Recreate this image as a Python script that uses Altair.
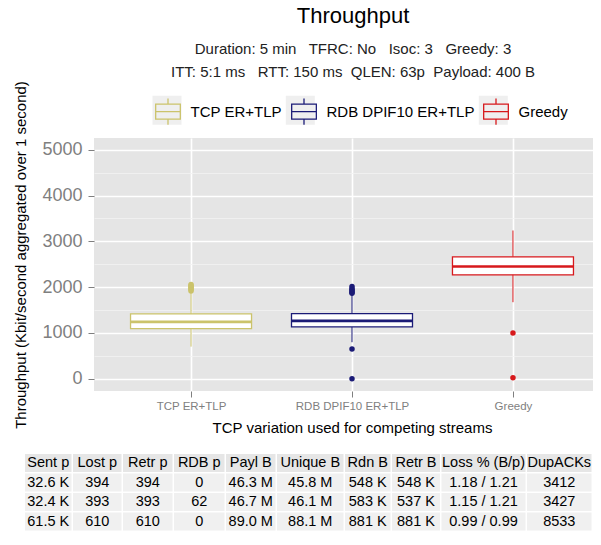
import altair as alt
import pandas as pd

# ---------------- data ----------------
categories = ["TCP ER+TLP", "RDB DPIF10 ER+TLP", "Greedy"]
colors = ["#CBC36B", "#1B1B77", "#D7191C"]

q1 = [1093, 1130, 2267]
median = [1240, 1262, 2449]
q3 = [1414, 1421, 2661]
whisker_lo = [700, 796, 1670]
whisker_hi = [1870, 1830, 3236]

outliers_tcp = [1917, 1940, 1965, 1990, 2010, 2035, 2055]
outliers_rdb = [1867, 1890, 1915, 1940, 1965, 2011, 650, 0]
outliers_greedy = [999, 22]

NB = "\u00a0"
title_text = "Throughput"
subtitle_lines = [
    f"Duration: 5 min{NB}{NB} TFRC: No{NB}{NB} Isoc: 3{NB}{NB} Greedy: 3",
    f"ITT: 5:1 ms{NB}{NB} RTT: 150 ms{NB} QLEN: 63p{NB} Payload: 400 B",
]
x_title = "TCP variation used for competing streams"
y_title = "Throughput (Kbit/second aggregated over 1 second)"
y_ticks = [0, 500, 1000, 1500, 2000, 2500, 3000, 3500, 4000, 4500, 5000]

table_header = ["Sent p", "Lost p", "Retr p", "RDB p", "Payl B", "Unique B",
                "Rdn B", "Retr B", "Loss % (B/p)", "DupACKs"]
row_tcp = ["32.6 K", "394", "394", "0", "46.3 M", "45.8 M", "548 K", "548 K",
           "1.18 / 1.21", "3412"]
row_rdb = ["32.4 K", "393", "393", "62", "46.7 M", "46.1 M", "583 K", "537 K",
           "1.15 / 1.21", "3427"]
row_greedy = ["61.5 K", "610", "610", "0", "89.0 M", "88.1 M", "881 K", "881 K",
              "0.99 / 0.99", "8533"]

# ---------------- layout / style ----------------
FONT = "Liberation Sans"
PLOT_W, PLOT_H = 499, 253
BOX_W = 121
col_widths = [48, 50, 51, 52, 51, 68, 47, 49.5, 85.5, 66]
TABLE_LEFT, TABLE_TOP, TABLE_BOTTOM = -69, 316, 394
CELL_GAP = 1.5
header_bg, body_bg = "#E6E6E6", "#F0F0F0"
GREY = "#7F7F7F"
KEY_BG = "#EFEFEF"
LEG_X, LEG_Y, KEY_SIZE = 58.5, -42.3, 841
# grey key squares (in legend-symbol units: half key = 1) behind each legend glyph
key_offsets = [0.0, 9.193, 22.503]
key_path = " ".join(
    "M%.3f,-1H%.3fV1H%.3fZ" % (o - 1, o + 1, o - 1) for o in key_offsets)

box_df = pd.DataFrame({
    "cat": categories, "q1": q1, "median": median, "q3": q3,
    "lo": whisker_lo, "hi": whisker_hi, "col": colors,
    "key": ["k", "k", "k"],
})
out_rows = []
for cat, col, vals in zip(categories, colors, [outliers_tcp, outliers_rdb, outliers_greedy]):
    for v in vals:
        out_rows.append({"cat": cat, "value": v, "col": col})
out_df = pd.DataFrame(out_rows)

x_enc = alt.X(
    "cat:N",
    scale=alt.Scale(type="point", domain=categories, padding=0.55, align=0.548),
    axis=alt.Axis(
        title=x_title, labelAngle=0, labelFontSize=11.5, labelColor=GREY,
        labelPadding=3, tickSize=6, tickColor=GREY, domain=False,
        grid=True, gridColor="white", gridWidth=1.6,
        titleFontSize=15, titleColor="black", titleFontWeight="normal",
        titleX=258, titleY=41.5, titleBaseline="alphabetic", titleAlign="center",
    ),
)
y_scale = alt.Scale(domain=[-269, 5256], nice=False, zero=False)
y_axis = alt.Axis(
    title=y_title, values=y_ticks, format="d",
    labelExpr="datum.value % 1000 === 0 ? datum.label : ''",
    labelFontSize=18, labelColor=GREY, labelPadding=6,
    tickSize=6,
    tickColor={"condition": {"test": "datum.value % 1000 !== 0", "value": "transparent"}, "value": GREY},
    domain=False, grid=True,
    gridColor={"condition": {"test": "datum.value % 1000 !== 0", "value": "#F2F2F2"}, "value": "white"},
    gridWidth={"condition": {"test": "datum.value % 1000 !== 0", "value": 0.8}, "value": 1.6},
    titleFontSize=15, titleColor="black", titleFontWeight="normal",
    titleX=-74, titleY=116.5, titleAngle=270, titleAlign="center", titleBaseline="middle",
)

legend_symbol = "M-0.85,-0.52H0.85V0.52H-0.85Z M-0.85,0H0.85 M0,-0.52V-0.9 M0,0.52V0.9"
color_enc = alt.Color(
    "cat:N",
    scale=alt.Scale(domain=categories, range=colors),
    legend=alt.Legend(
        orient="none", legendX=LEG_X, legendY=LEG_Y, direction="horizontal",
        title=None, symbolType=legend_symbol, symbolSize=KEY_SIZE,
        symbolStrokeWidth=1.3, symbolFillColor="white",
        labelFontSize=15, labelColor="black", labelFont=FONT,
        labelOffset=7, columnPadding=6, padding=0, zindex=2,
    ),
)
shape_enc = alt.Shape(
    "key:N",
    scale=alt.Scale(domain=["k"], range=[key_path]),
    legend=alt.Legend(
        orient="none", legendX=LEG_X, legendY=LEG_Y, direction="horizontal",
        title=None, symbolSize=KEY_SIZE, symbolStrokeWidth=0,
        symbolFillColor=KEY_BG, labelExpr="''",
        labelFontSize=15, labelColor="transparent",
        labelOffset=0, padding=0, zindex=1,
    ),
)

base = alt.Chart(box_df)
key_layer = base.mark_point(size=0, filled=True, color=KEY_BG, opacity=1).encode(
    x=x_enc, y=alt.Y("median:Q", scale=y_scale, axis=y_axis), shape=shape_enc)
whiskers = base.mark_rule(strokeWidth=1).encode(
    x=x_enc, y=alt.Y("lo:Q", scale=y_scale, axis=y_axis), y2="hi:Q", color=color_enc)
box_fill = base.mark_bar(size=BOX_W, fill="white", stroke=None).encode(
    x=x_enc, y=alt.Y("q1:Q", scale=y_scale, axis=y_axis), y2="q3:Q")
box_line = base.mark_bar(size=BOX_W, filled=False, strokeWidth=1.3).encode(
    x=x_enc, y=alt.Y("q1:Q", scale=y_scale, axis=y_axis), y2="q3:Q", color=color_enc)
med = base.mark_tick(size=BOX_W, thickness=2.6, opacity=1).encode(
    x=x_enc, y=alt.Y("median:Q", scale=y_scale, axis=y_axis),
    fill=alt.Fill("col:N", scale=None))
pts = alt.Chart(out_df).mark_circle(size=30, opacity=1).encode(
    x=x_enc, y=alt.Y("value:Q", scale=y_scale, axis=y_axis),
    fill=alt.Fill("col:N", scale=None))

main = alt.layer(whiskers, box_fill, box_line, med, pts, key_layer)

# ---------------- table ----------------
rows = [table_header, row_tcp, row_rdb, row_greedy]
n_rows = len(rows)
total_w = sum(col_widths)
gap_y = CELL_GAP / ((TABLE_BOTTOM - TABLE_TOP) / n_rows)
cells = []
for r, row in enumerate(rows):
    x0 = 0.0
    for c, val in enumerate(row):
        w = col_widths[c]
        cells.append({
            "x0": x0, "x1": x0 + w - CELL_GAP, "xc": x0 + (w - CELL_GAP) / 2,
            "y0": r, "y1": r + 1 - gap_y, "yc": r + (1 - gap_y) / 2,
            "txt": val, "bg": header_bg if r == 0 else body_bg,
        })
        x0 += w
cell_df = pd.DataFrame(cells)

tx = alt.Scale(domain=[0, total_w], range=[TABLE_LEFT, TABLE_LEFT + total_w], nice=False, zero=False)
ty = alt.Scale(domain=[0, n_rows], range=[TABLE_TOP, TABLE_BOTTOM], nice=False, zero=False)
tbase = alt.Chart(cell_df)
t_rect = tbase.mark_rect().encode(
    x=alt.X("x0:Q", scale=tx, axis=None), x2="x1:Q",
    y=alt.Y("y0:Q", scale=ty, axis=None), y2="y1:Q",
    fill=alt.Fill("bg:N", scale=None))
t_text = tbase.mark_text(fontSize=14.5, font=FONT, color="black", align="center", baseline="middle").encode(
    x=alt.X("xc:Q", scale=tx, axis=None),
    y=alt.Y("yc:Q", scale=ty, axis=None),
    text="txt:N")
table = alt.layer(t_rect, t_text)

chart = alt.layer(main, table).resolve_scale(
    x="independent", y="independent"
).properties(
    width=PLOT_W, height=PLOT_H,
    autosize=alt.AutoSizeParams(type="none"),
    padding={"left": 86, "top": 130, "right": 0, "bottom": 140},
    title=alt.TitleParams(
        text=title_text, subtitle=subtitle_lines, anchor="middle", dx=9.5,
        fontSize=22, fontWeight="normal", color="black", font=FONT,
        subtitleFontSize=15, subtitleColor="#222222", subtitleFont=FONT,
        subtitleLineHeight=22.4, subtitlePadding=14.5, offset=0,
    ),
).configure(font=FONT).configure_view(fill="#E5E5E5", stroke=None)

chart.save("out.html", embed_options={"renderer": "svg", "actions": False})
